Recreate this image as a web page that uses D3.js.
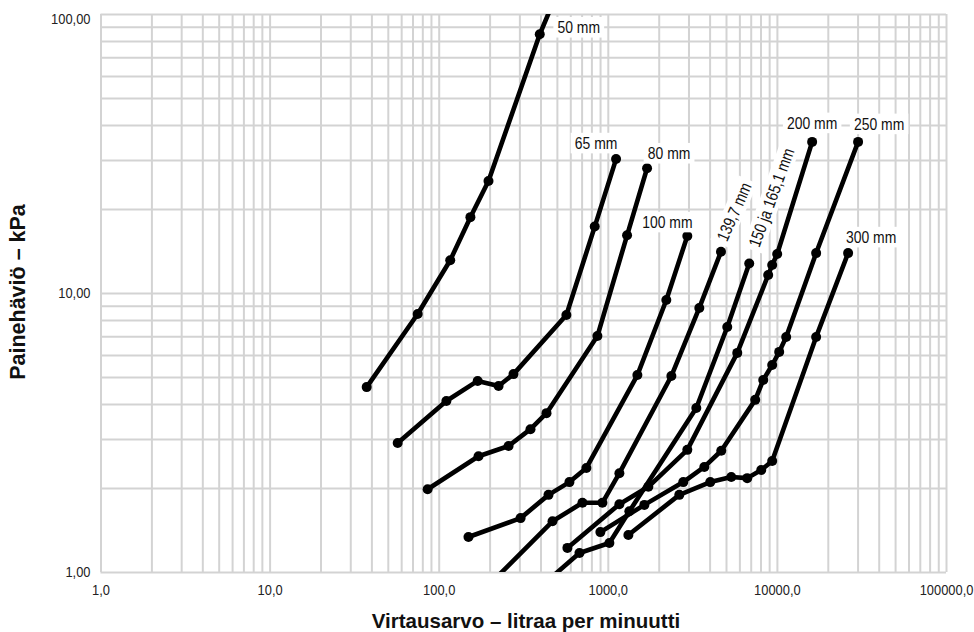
<!DOCTYPE html>
<html><head><meta charset="utf-8">
<script src="https://cdn.jsdelivr.net/npm/d3@7"></script>
<style>
html,body{margin:0;padding:0;background:#fff;}
svg{display:block;}
</style></head><body>
<svg id="chart" width="974" height="632"></svg>
<script>
// ---- data ----
const xTickValues = [1, 10, 100, 1000, 10000, 100000];
const xTickLabels = ["1,0", "10,0", "100,0", "1000,0", "10000,0", "100000,0"];
const yTickValues = [1, 10, 100];
const yTickLabels = ["1,00", "10,00", "100,00"];
const xTitle = "Virtausarvo – litraa per minuutti";
const yTitle = "Painehäviö – kPa";

const seriesNames = ["50 mm", "65 mm", "80 mm", "100 mm", "139,7 mm", "150 ja 165,1 mm", "200 mm", "250 mm", "300 mm"];
// [flow l/min, pressure drop kPa]
const s50  = [[37.5,4.60],[75.1,8.41],[117,13.1],[154,18.7],[197,25.2],[396,84.6],[475,110]];
const s65  = [[57.2,2.90],[111,4.10],[170,4.84],[226,4.64],[277,5.12],[569,8.34],[837,17.3],[1119,30.2]];
const s80  = [[86,1.98],[172,2.60],[259,2.83],[349,3.25],[434,3.71],[868,7.01],[1300,16.1],[1707,28.0]];
const s100 = [[150,1.335],[305,1.56],[446,1.89],[593,2.10],[747,2.36],[1496,5.08],[2219,9.44],[2953,16.0]];
const s140 = [[210,0.93],[471,1.52],[708,1.77],[929,1.77],[1171,2.26],[2376,5.04],[3476,8.84],[4670,14.06]];
const s150 = [[440,0.93],[680,1.17],[1022,1.27],[1341,1.65],[3337,3.87],[5087,7.55],[6862,12.76]];
const s200 = [[577,1.22],[1171,1.75],[1737,2.02],[2953,2.74],[5830,6.10],[8884,11.6],[9380,12.6],[10040,13.8],[16160,34.8]];
const s250 = [[904,1.39],[1645,1.74],[2795,2.10],[3721,2.38],[4688,2.72],[7443,4.14],[8302,4.88],[9380,5.52],[10318,6.15],[11346,6.96],[17066,13.9],[30210,34.8]];
const s300 = [[1323,1.357],[2648,1.89],[4036,2.10],[5372,2.19],[6677,2.17],[8079,2.32],[9380,2.50],[17066,6.96],[26370,13.9]];
const seriesData = [s50, s65, s80, s100, s140, s150, s200, s250, s300];

// ---- layout ----
const W = 974, H = 632;
const m = {left: 100.5, right: 28, top: 14, bottom: 60};
const pw = W - m.left - m.right, ph = H - m.top - m.bottom;

// label placement relative to an anchor point of each series (pixels)
const labelLayout = [
  {idx:5, dx:39, dy:-7,  rot:0},
  {idx:-1, dx:-20, dy:-16, rot:0},
  {idx:-1, dx:22, dy:-15, rot:0},
  {idx:-1, dx:-20, dy:-14, rot:0},
  {idx:-1, dx:13, dy:-40, rot:-66},
  {idx:-1, dx:22, dy:-66, rot:-70},
  {idx:-1, dx:0, dy:-19, rot:0},
  {idx:-1, dx:21, dy:-18, rot:0},
  {idx:-1, dx:23, dy:-16, rot:0}
];

const sans = '"Liberation Sans",Arial,sans-serif';
const tickScale = 0.86, labelScale = 0.82;
const svg = d3.select("#chart");
const g = svg.append("g").attr("transform", `translate(${m.left},${m.top})`);

const x = d3.scaleLog().domain([1, 100000]).range([0, pw]);
const y = d3.scaleLog().domain([1, 100]).range([ph, 0]);

// grid values: 1..9 × 10^k
const xGrid = [];
for (let k = 0; k < 5; k++) for (let j = 1; j <= 9; j++) xGrid.push(j * Math.pow(10, k));
xGrid.push(100000);
const yGrid = [];
for (let k = 0; k < 2; k++) for (let j = 1; j <= 9; j++) yGrid.push(j * Math.pow(10, k));
yGrid.push(100);

const gridColor = "#d3d3d3";
const gx = g.append("g").attr("transform", `translate(0,${ph})`)
  .call(d3.axisBottom(x).tickValues(xGrid).tickSize(-ph).tickFormat(""));
const gy = g.append("g")
  .call(d3.axisLeft(y).tickValues(yGrid).tickSize(-pw).tickFormat(""));
[gx, gy].forEach(a => {
  a.select(".domain").remove();
  a.selectAll("line").attr("stroke", gridColor).attr("stroke-width", 2);
});

// tick labels
const ax = g.append("g").attr("transform", `translate(0,${ph})`)
  .call(d3.axisBottom(x).tickValues(xTickValues).tickSize(0).tickPadding(12)
    .tickFormat((d, i) => xTickLabels[i]));
const ay = g.append("g")
  .call(d3.axisLeft(y).tickValues(yTickValues).tickSize(0).tickPadding(11.6)
    .tickFormat((d, i) => yTickLabels[i]));
[ax, ay].forEach(a => {
  a.select(".domain").remove();
  a.selectAll("text").attr("font-family", sans).attr("font-size", 15).attr("fill", "#222")
    .attr("transform", `scale(${tickScale},1)`);
});
// top label sits slightly below the top border
ay.selectAll(".tick").filter(d => d === 100).select("text").attr("dy", "0.62em");

// axis titles
svg.append("text").attr("x", 526).attr("y", 620).attr("text-anchor", "middle")
  .attr("dominant-baseline", "central")
  .attr("font-family", sans).attr("font-weight", "bold")
  .attr("font-size", 20.5).attr("fill", "#111").text(xTitle);
svg.append("text").attr("transform", "translate(18,292) rotate(-90)").attr("text-anchor", "middle")
  .attr("dominant-baseline", "central")
  .attr("font-family", sans).attr("font-weight", "bold")
  .attr("font-size", 21.5).attr("fill", "#111").text(yTitle);

// clip
svg.append("defs").append("clipPath").attr("id", "plotclip")
  .append("rect").attr("x", -3).attr("y", 0).attr("width", pw + 6).attr("height", ph);

const line = d3.line().x(d => x(d[0])).y(d => y(d[1]));
const plot = g.append("g").attr("clip-path", "url(#plotclip)");

seriesData.forEach(data => {
  plot.append("path").datum(data).attr("d", line)
    .attr("fill", "none").attr("stroke", "#000").attr("stroke-width", 4.6)
    .attr("stroke-linejoin", "round").attr("stroke-linecap", "round");
  plot.selectAll(null).data(data).enter().append("circle")
    .attr("cx", d => x(d[0])).attr("cy", d => y(d[1])).attr("r", 5).attr("fill", "#000");
});

// series labels
const lg = g.append("g");
seriesData.forEach((data, i) => {
  const L = labelLayout[i];
  const p = data[L.idx < 0 ? data.length - 1 : L.idx];
  const cx = x(p[0]) + L.dx, cy = y(p[1]) + L.dy;
  const grp = lg.append("g").attr("transform", `translate(${cx},${cy}) rotate(${L.rot}) scale(${labelScale},1)`);
  const rect = grp.append("rect").attr("fill", "#fff");
  const t = grp.append("text").attr("text-anchor", "middle").attr("dominant-baseline", "central")
    .attr("font-family", sans).attr("font-size", 17).attr("fill", "#111").text(seriesNames[i]);
  const bb = t.node().getBBox();
  rect.attr("x", bb.x - 5).attr("y", bb.y - 1).attr("width", bb.width + 10).attr("height", bb.height + 2);
});
</script>
</body></html>
